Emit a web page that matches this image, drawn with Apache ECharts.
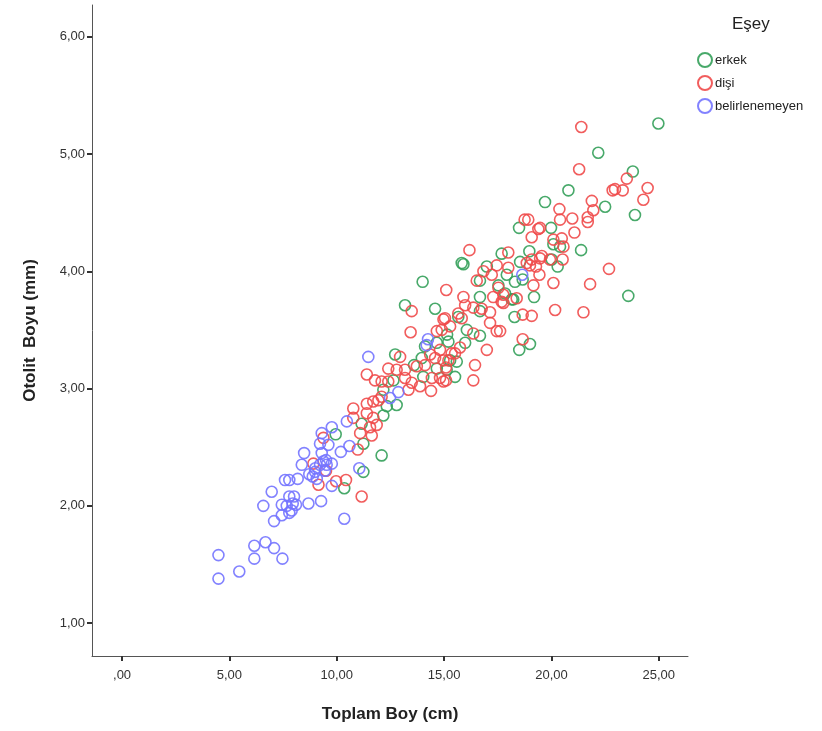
<!DOCTYPE html>
<html><head><meta charset="utf-8">
<script src="https://cdn.jsdelivr.net/npm/echarts@6/dist/echarts.min.js"></script>
<style>html,body{margin:0;padding:0;background:#fff}#c{width:822px;height:731px}</style>
</head><body><div id="c"></div>
<script>
const seriesNames = ['erkek', 'dişi', 'belirlenemeyen'];
const xTicks = [0, 5, 10, 15, 20, 25];
const yTicks = [1, 2, 3, 4, 5, 6];

const erkek = [
[24.98,5.26],[22.18,5.01],[23.79,4.85],[20.79,4.69],[19.70,4.59],[22.50,4.55],[23.89,4.48],[19.98,4.37],[20.09,4.23],[20.40,4.21],[21.38,4.18],[20.29,4.04],[20.01,4.10],[23.58,3.79],
[18.49,4.37],[18.97,4.17],[17.68,4.15],[18.54,4.08],[18.66,3.93],[17.92,3.97],[19.19,3.78],[18.22,3.76],[18.28,3.61],[18.50,3.33],[19.00,3.38],
[15.82,4.07],[15.90,4.06],[16.99,4.04],[16.67,3.92],[18.30,3.91],[17.53,3.88],[16.67,3.78],[17.84,3.81],[18.15,3.76],[16.67,3.66],[15.66,3.61],[16.06,3.50],[16.67,3.45],[15.98,3.39],[15.20,3.40],[15.28,3.24],
[14.58,3.68],[13.18,3.71],[12.72,3.29],[13.60,3.20],[13.96,3.26],[14.11,3.36],[14.66,3.39],[15.59,3.23],[15.12,3.16],[14.66,3.17],[14.03,3.10],[15.51,3.10],[12.17,2.99],[12.64,3.07],[12.33,2.85],[12.79,2.86],[11.16,2.70],[11.24,2.53],[12.17,2.77],
[9.95,2.61],[10.35,2.15],[11.24,2.29],[12.09,2.43],[14.00,3.91],[15.14,3.46]
];

const disi = [
[21.39,5.23],[21.29,4.87],[23.51,4.79],[22.96,4.70],[23.32,4.69],[22.85,4.69],[24.48,4.71],[24.28,4.61],[21.88,4.60],[21.95,4.52],[20.37,4.53],[20.40,4.44],[20.97,4.45],[21.69,4.46],[21.69,4.42],[21.07,4.33],[20.09,4.27],[20.48,4.28],[20.56,4.21],[19.47,4.37],[19.55,4.13],[19.93,4.10],[20.52,4.10],[22.68,4.02],[20.09,3.90],[21.80,3.89],[20.17,3.67],[21.49,3.65],
[18.75,4.44],[18.92,4.44],[19.39,4.36],[19.08,4.29],[17.99,4.16],[19.08,4.10],[19.47,4.11],[19.00,4.05],[19.28,4.04],[19.44,3.97],[19.16,3.88],[17.99,4.03],[17.76,3.80],[18.38,3.77],[17.76,3.73],[18.66,3.63],[19.08,3.62],[17.61,3.49],[18.66,3.42],
[16.18,4.18],[18.85,4.07],[17.45,4.05],[16.83,4.00],[17.22,3.97],[16.52,3.92],[15.10,3.84],[17.53,3.86],[15.90,3.78],[17.29,3.78],[17.68,3.74],[16.36,3.69],[16.75,3.68],[17.14,3.65],[15.04,3.60],[15.28,3.53],[15.82,3.60],[17.14,3.56],[17.45,3.49],[16.36,3.47],[16.99,3.33],[14.89,3.50],[15.35,3.30],[16.44,3.20],[14.97,3.24],
[13.49,3.66],[13.44,3.48],[14.66,3.49],[14.97,3.59],[15.66,3.64],[15.98,3.71],[12.95,3.27],[12.40,3.17],[12.79,3.16],[13.18,3.16],[13.73,3.19],[14.35,3.29],[14.11,3.20],[14.58,3.26],[14.81,3.33],[15.20,3.24],[15.51,3.30],[14.43,3.09],[13.88,3.02],[14.81,3.09],[14.97,3.06],[16.36,3.07],
[11.40,3.12],[11.78,3.07],[12.09,3.06],[12.40,3.06],[13.18,3.09],[13.49,3.05],[13.34,2.99],[12.09,2.93],[11.70,2.89],[11.94,2.90],[11.40,2.87],[10.77,2.83],[11.40,2.79],[11.70,2.75],[11.86,2.69],[11.55,2.67],[11.09,2.62],[11.63,2.60],[10.77,2.75],
[9.38,2.58],[10.98,2.48],[8.91,2.36],[9.50,2.30],[9.15,2.18],[9.97,2.21],[10.43,2.22],[11.16,2.08],
[14.39,2.98],[15.09,3.18],[15.09,3.07],[15.74,3.35]
];

const belirlenemeyen = [
[4.49,1.38],[4.49,1.58],[5.46,1.44],[6.16,1.55],[6.16,1.66],[6.68,1.69],[7.08,1.64],[7.47,1.55],
[6.58,2.00],[6.97,2.12],[7.08,1.87],[7.44,1.92],[7.44,2.01],[7.79,2.08],[8.01,2.08],[7.79,1.94],[7.67,2.00],[7.95,2.02],[8.10,2.01],[7.90,1.96],
[7.59,2.22],[7.79,2.22],[8.18,2.23],[8.68,2.02],[9.27,2.04],[10.35,1.89],
[8.37,2.35],[8.48,2.45],[8.72,2.27],[8.88,2.25],[8.99,2.29],[9.07,2.23],[9.22,2.35],[9.30,2.45],[9.38,2.38],[9.50,2.39],[9.53,2.35],[9.77,2.36],
[9.22,2.53],[9.30,2.62],[9.61,2.52],[9.77,2.67],[10.19,2.46],[10.59,2.51],[10.47,2.72],[9.77,2.17],[11.05,2.32],
[11.47,3.27],[14.19,3.37],[14.25,3.42],[12.48,2.92],[12.87,2.97],[18.64,3.97],[9.45,2.30],[9.00,2.32]
];

const colors = ['#34a05a', '#ef4b4b', '#7474ff'];
const datasets = [erkek, disi, belirlenemeyen];
const fmt = v => { const s = v.toFixed(2).replace('.', ','); return s.startsWith('0,') ? s.slice(1) : s; };
const font = 'Arial, "Liberation Sans", sans-serif';

const chart = echarts.init(document.getElementById('c'), null, {renderer: 'canvas'});
chart.setOption({
  animation: false,
  textStyle: {fontFamily: font},
  grid: {left: 92, right: 134, top: 5, bottom: 75, containLabel: false},
  title: {text: 'Eşey', left: 727, top: 11, textStyle: {fontFamily: font, fontSize: 17, fontWeight: 'normal', color: '#222'}},
  legend: {
    orient: 'vertical', left: 692, top: 47, itemWidth: 14, itemHeight: 14, itemGap: 7,
    data: seriesNames.map(n => ({name: n, icon: 'circle'})),
    textStyle: {fontFamily: font, fontSize: 13, color: '#222', padding: [0, 0, 0, -2]}
  },
  xAxis: {
    type: 'value', min: -1.40, max: 26.36,
    name: 'Toplam Boy (cm)', nameLocation: 'middle', nameGap: 50,
    nameTextStyle: {fontFamily: font, fontSize: 17, fontWeight: 'bold', color: '#222'},
    axisLine: {show: true, onZero: false, lineStyle: {color: '#555', width: 1}},
    axisTick: {show: true, length: 5, customValues: xTicks, lineStyle: {color: '#333', width: 2}},
    axisLabel: {customValues: xTicks, formatter: fmt, fontSize: 13, color: '#333', margin: 13, fontFamily: font},
    splitLine: {show: false}
  },
  yAxis: {
    type: 'value', min: 0.72, max: 6.27,
    name: 'Otolit  Boyu (mm)', nameLocation: 'middle', nameGap: 53, nameRotate: 90,
    nameTextStyle: {fontFamily: font, fontSize: 17, fontWeight: 'bold', color: '#222'},
    axisLine: {show: true, onZero: false, lineStyle: {color: '#555', width: 1}},
    axisTick: {show: true, length: 5, customValues: yTicks, lineStyle: {color: '#333', width: 2}},
    axisLabel: {customValues: yTicks, formatter: fmt, fontSize: 13, color: '#333', margin: 7, fontFamily: font},
    splitLine: {show: false}
  },
  series: seriesNames.map((n, i) => ({
    name: n, type: 'scatter', symbol: 'circle', symbolSize: 11,
    data: datasets[i],
    itemStyle: {color: 'rgba(255,255,255,0)', borderColor: colors[i], borderWidth: 1.6, opacity: 0.9}
  }))
});
</script></body></html>
